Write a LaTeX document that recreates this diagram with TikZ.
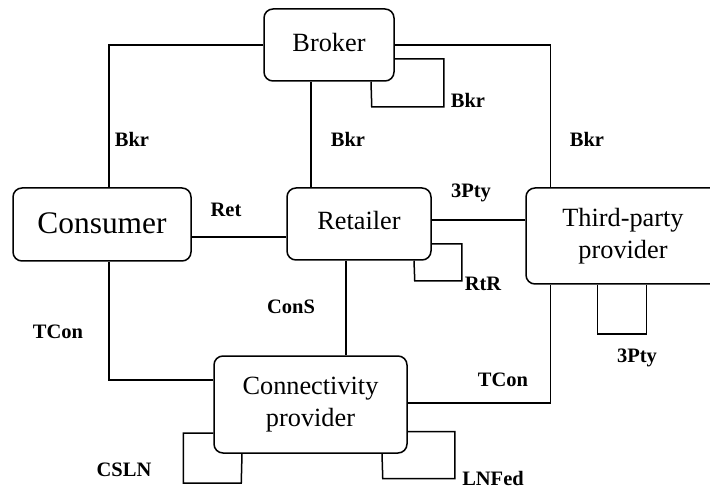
\documentclass[tikz,border=0pt]{standalone}
\usepackage{fontspec}
\setmainfont{Liberation Serif}
\begin{document}
\begin{tikzpicture}[x=1pt,y=-1pt,
  party/.style={draw, line width=1.5pt, rounded corners=9pt, align=center,
    inner sep=0pt, font=\fontsize{26.3}{31.5}\selectfont},
  link/.style={line width=1.5pt},
  role/.style={inner sep=0pt, font=\bfseries\fontsize{20.5}{24}\selectfont}]
\useasboundingbox (0,0) rectangle (710,489);
\clip (0,0) rectangle (710,489);

% business roles
\node[party, minimum width=130pt, minimum height=72pt] (broker) at (329,45)
  {\raisebox{5pt}{Broker}};
\node[party, minimum width=178pt, minimum height=73pt,
  font=\fontsize{31.4}{36}\selectfont] (consumer) at (102,224.5)
  {\raisebox{2.5pt}{Consumer}};
\node[party, minimum width=144pt, minimum height=72pt] (retailer) at (359,224)
  {\raisebox{7pt}{Retailer}};
% this box runs on past the right margin
\node[party, minimum width=214pt, minimum height=96pt] (third) at (633,236)
  {\hspace*{-20pt}Third-party\\\hspace*{-20pt}provider};
\node[party, minimum width=193pt, minimum height=97pt] (conn) at (310.5,404.5)
  {Connectivity\\provider};

% reference points between roles
\draw[link] (broker.west) -| ([xshift=7pt]consumer.north);
\draw[link] (broker.east) -| ([xshift=25pt]third.north west);
\draw[link] ([xshift=-18pt]broker.south) -- ([xshift=-18pt]broker.south |- retailer.north);
\draw[link] ([yshift=-14pt]broker.east) -| ++(49,48) -- ++(-72,0) -- ([xshift=42pt]broker.south);

\draw[link] ([yshift=-12.5pt]consumer.east) -- ([yshift=-12.5pt]consumer.east -| retailer.west);
\draw[link] ([yshift=4pt]retailer.east) -- ([yshift=4pt]retailer.east -| third.west);
\draw[link] ([yshift=-20pt]retailer.east) -| ++(30,37) -- ++(-47,0) -- ([xshift=55pt]retailer.south);
\draw[link] ([xshift=-13pt]retailer.south) -- ([xshift=-13pt]retailer.south |- conn.north);

\draw[link] ([xshift=7pt]consumer.south) |- ([yshift=24.5pt]conn.west);
\draw[link] ([xshift=25pt]third.south west) |- ([yshift=1.5pt]conn.east);
\draw[link] ([xshift=72pt]third.south west) -- ++(0,49) -- ++(49,0) -- ([xshift=121pt]third.south west);

\draw[link] ([yshift=-28.5pt]conn.west) -| ++(-30,50) -- ++(58,0) -- ([xshift=-68.5pt]conn.south);
\draw[link] ([yshift=-27pt]conn.east) -| ++(47,47) -- ++(-72,0) -- ([xshift=71.5pt]conn.south);

% reference point names
\node[role] (bkrA) at (132,139) {Bkr};
\node[role] (bkrB) at (348,139) {Bkr};
\node[role] (bkrC) at (587,139) {Bkr};
\node[role] (bkrD) at (468,100) {Bkr};
\node[role] (ret)  at (226,210) {Ret};
\node[role] (ptyA) at (471,193) {3Pty};
\node[role] (rtr)  at (483,284) {RtR};
\node[role] (cons) at (291,307) {ConS};
\node[role] (tconA) at (58,332) {TCon};
\node[role] (tconB) at (503,380) {TCon};
\node[role] (ptyB) at (637,358) {3Pty};
\node[role] (csln) at (124,470) {CSLN};
\node[role] (lnfed) at (493,478) {LNFed};
\end{tikzpicture}
\end{document}
